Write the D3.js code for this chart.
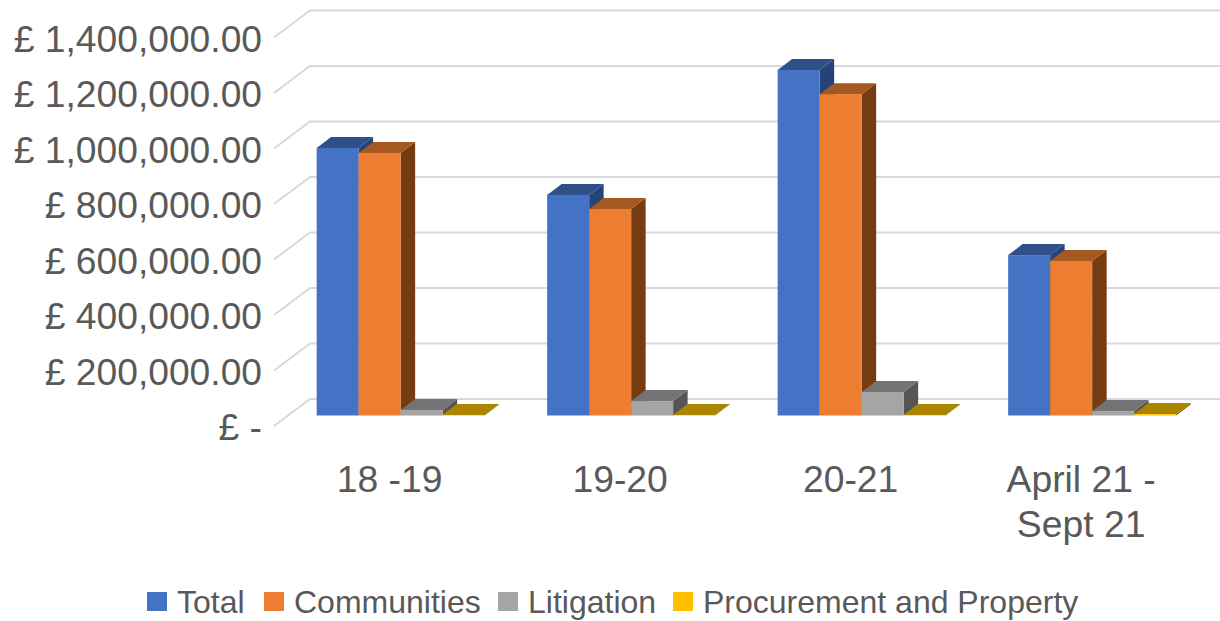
<!DOCTYPE html>
<html><head><meta charset="utf-8">
<script src="https://cdn.jsdelivr.net/npm/d3@7"></script>
<style>html,body{margin:0;padding:0;background:#fff}svg{display:block}text{font-family:"Liberation Sans",Arial,sans-serif;fill:#595959}</style>
</head><body><div id="c"></div>
<script>
const categories=["18 -19","19-20","20-21","April 21 -|Sept 21"];
const seriesNames=["Total","Communities","Litigation","Procurement and Property"];
const total=[964000,795000,1245000,578000];
const communities=[946000,744000,1158000,557000];
const litigation=[20000,52000,85000,16000];
const procurement=[2000,2000,2000,5000];
const tickValues=[0,200000,400000,600000,800000,1000000,1200000,1400000];
const seriesValues=[total,communities,litigation,procurement];
const frontColors=["#4472c4","#ed7d31","#a5a5a5","#ffc000"];
const topColors=["#2f4f88","#a5581f","#737373","#ab8400"];
const sideColors=["#254379","#753c12","#555555","#7f6000"];
const legendSwatchX=[147,264,498,673];

const W=1220,H=621;
const svg=d3.select("#c").append("svg").attr("width",W).attr("height",H);
const y=d3.scaleLinear().domain([0,1400000]).range([415.5,27]);
const x0=d3.scaleBand().domain(categories).range([285.4,1207.4]);
const x1=d3.scaleBand().domain(seriesNames).range([0,168]);
const dx=14.5,dy=11;

// gridlines
const grid=svg.append("g").attr("fill","none").attr("stroke","#d9d9d9").attr("stroke-width",2);
grid.selectAll("path").data(tickValues).join("path")
  .attr("d",v=>`M274,${y(v)+10.5}L310,${y(v)-16.5}H1220`);

// bars
categories.forEach((c,ci)=>{
  const g=svg.append("g");
  seriesNames.forEach((s,si)=>{
    const v=seriesValues[si][ci];
    const l=x0(c)+x0.bandwidth()/2-x1.step()*2+x1(s), w=x1.bandwidth(), t=y(v), b=y(0);
    g.append("path").attr("fill",sideColors[si])
      .attr("d",`M${l+w},${t}L${l+w+dx},${t-dy}V${b-dy}L${l+w},${b}Z`);
    g.append("path").attr("fill",topColors[si])
      .attr("d",`M${l},${t}L${l+dx},${t-dy}H${l+w+dx}L${l+w},${t}Z`);
    g.append("rect").attr("fill",frontColors[si]).attr("x",l).attr("y",t).attr("width",w).attr("height",b-t);
  });
});

// y axis labels
const yAxis=d3.axisLeft(y).tickValues(tickValues).tickSize(0).tickPadding(0)
  .tickFormat(v=>v===0?"£ -":"£ "+d3.format(",.2f")(v));
const ya=svg.append("g").attr("transform","translate(262,11)").call(yAxis);
ya.select(".domain").remove();
ya.attr("font-family",null);
ya.selectAll("text").attr("font-size",37.2).attr("dy","0.36em").style("fill","#595959");

// category labels
categories.forEach(c=>{
  const t=svg.append("text").attr("text-anchor","middle").attr("font-size",37.3)
    .attr("transform",`translate(${x0(c)+x0.bandwidth()/2-11},492)`);
  c.split("|").forEach((ln,i)=>t.append("tspan").attr("x",0).attr("y",i*45).text(ln));
});

// legend
seriesNames.forEach((s,i)=>{
  svg.append("rect").attr("x",legendSwatchX[i]).attr("y",592).attr("width",20).attr("height",19).attr("fill",frontColors[i]);
  svg.append("text").attr("x",legendSwatchX[i]+30).attr("y",613).attr("font-size",32).text(s);
});
</script></body></html>
